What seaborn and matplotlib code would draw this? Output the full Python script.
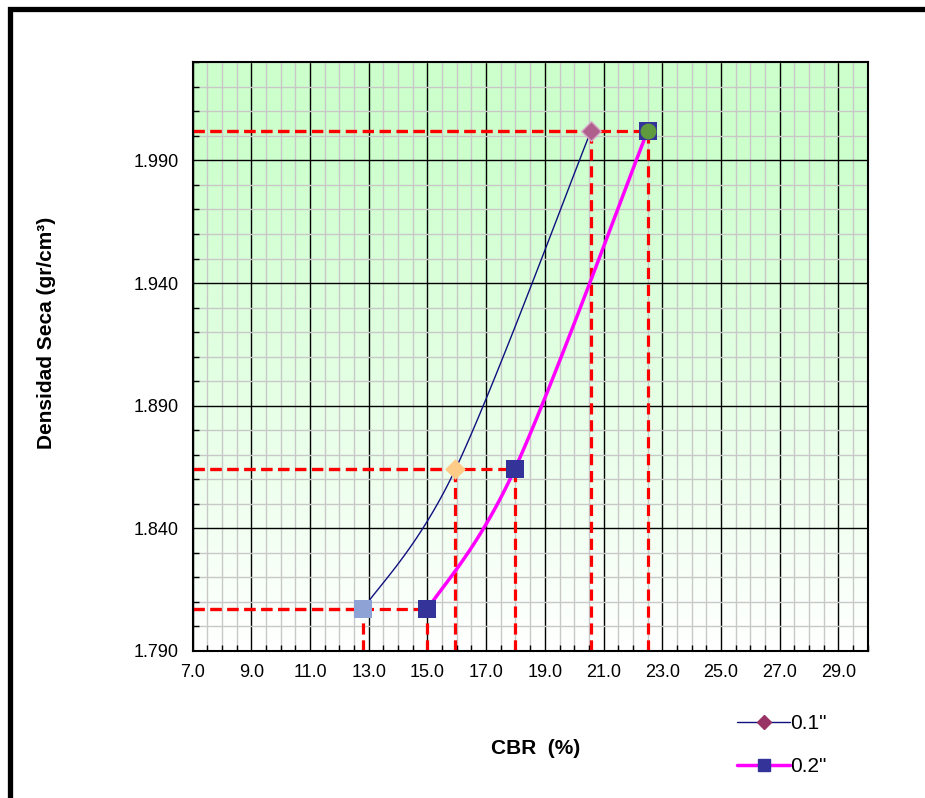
import numpy as np
import pandas as pd
import matplotlib
matplotlib.use("Agg")
import matplotlib.pyplot as plt
import seaborn as sns
from matplotlib.lines import Line2D
from matplotlib.patches import Rectangle
from matplotlib.ticker import MultipleLocator, FixedLocator

# ---- data ----
dens = [1.807, 1.864, 2.002]
cbr_01 = [12.8, 15.95, 20.57]
cbr_02 = [15.0, 17.97, 22.5]
series_names = ['0.1"', '0.2"']
x_ticks = [7.0, 9.0, 11.0, 13.0, 15.0, 17.0, 19.0, 21.0, 23.0, 25.0, 27.0, 29.0]
y_ticks = [1.790, 1.840, 1.890, 1.940, 1.990]

sns.set_theme(style="white")
plt.rcParams['font.family'] = ['Liberation Sans', 'DejaVu Sans']
plt.rcParams['text.color'] = 'black'

fig = plt.figure(figsize=(9.25, 7.98), dpi=100)
ax = fig.add_axes([0.2083, 0.1843, 0.7297, 0.7376])
XMIN, XMAX, YMIN, YMAX = 7.0, 30.0, 1.790, 2.030
ax.set_xlim(XMIN, XMAX)
ax.set_ylim(YMIN, YMAX)

# gradient background
grad = np.linspace(0, 1, 256).reshape(-1, 1)
top = np.array([0.80, 1.0, 0.80])
bot = np.array([1.0, 1.0, 1.0])
frac = np.clip(grad * 1.15, 0, 1)
img = bot + (top - bot) * frac
img = img.reshape(256, 1, 3)
ax.imshow(img, extent=(XMIN, XMAX, YMIN, YMAX), origin='lower', aspect='auto', zorder=0)

# grid
ax.xaxis.set_major_locator(FixedLocator(x_ticks))
ax.xaxis.set_minor_locator(MultipleLocator(0.5))
ax.yaxis.set_major_locator(FixedLocator(y_ticks))
ax.yaxis.set_minor_locator(MultipleLocator(0.01))
ax.grid(which='minor', color='#c8c8c8', lw=1.0, zorder=1)
ax.grid(which='major', color='#000000', lw=1.0, zorder=1.5)
ax.set_axisbelow(True)
ax.set_xticklabels([f"{v:.1f}" for v in x_ticks], fontsize=13, color='black')
ax.set_yticklabels([f"{v:.3f}" for v in y_ticks], fontsize=13, color='black')
ax.tick_params(axis='x', which='major', direction='inout', length=7, width=1.2, color='black', pad=6)
ax.tick_params(axis='x', which='minor', direction='in', length=4, width=1.0, color='black', bottom=True)
ax.tick_params(axis='y', which='major', direction='out', length=6, width=1.2, color='black', pad=4)
ax.tick_params(axis='y', which='minor', direction='in', length=4, width=1.0, color='black', left=True)
for s in ax.spines.values():
    s.set_color('black')
    s.set_linewidth(1.5)
    s.set_zorder(5)


def excel_smooth(xs, ys, n=60):
    pts = np.column_stack([xs, ys]).astype(float)
    out = []
    m = len(pts)
    for i in range(m - 1):
        p0 = pts[i - 1] if i > 0 else pts[i]
        p1 = pts[i]
        p2 = pts[i + 1]
        p3 = pts[i + 2] if i + 2 < m else pts[i + 1]
        c1 = p1 + (p2 - p0) / 6.0
        c2 = p2 - (p3 - p1) / 6.0
        t = np.linspace(0, 1, n)[:, None]
        seg = ((1 - t) ** 3) * p1 + 3 * ((1 - t) ** 2) * t * c1 + 3 * (1 - t) * t ** 2 * c2 + t ** 3 * p2
        out.append(seg if i == 0 else seg[1:])
    return np.vstack(out)

# red dashed guide lines
for xs in (cbr_01, cbr_02):
    for xv, yv in zip(xs, dens):
        ax.plot([XMIN, xv], [yv, yv], color='#ff0000', lw=2.3, ls=(0, (3.5, 1.8)), zorder=3)
        ax.plot([xv, xv], [YMIN, yv], color='#ff0000', lw=2.3, ls=(0, (3.5, 1.8)), zorder=3)

# smoothed curves
c1 = excel_smooth(cbr_01, dens)
c2 = excel_smooth(cbr_02, dens)
sns.lineplot(x=c1[:, 0], y=c1[:, 1], sort=False, color='#10107f', lw=1.0, ax=ax, zorder=4)
sns.lineplot(x=c2[:, 0], y=c2[:, 1], sort=False, color='#ff00ff', lw=2.5, ax=ax, zorder=4)

# markers (individual point formats)
ax.scatter([cbr_01[0]], [dens[0]], marker='s', s=150, color='#8ea2d6', zorder=6, linewidths=0)
ax.scatter([cbr_01[1]], [dens[1]], marker='D', s=110, color='#ffcc88', zorder=6, linewidths=0)
ax.scatter([cbr_01[2]], [dens[2]], marker='D', s=100, color='#b0608c', edgecolor='#d8a8c8', linewidths=1, zorder=6)
ax.scatter(cbr_02, dens, marker='s', s=150, color='#333399', zorder=6, linewidths=0)
ax.scatter([cbr_02[2]], [dens[2]], marker='o', s=130, color='#5f9a3e', zorder=7, linewidths=0)

ax.set_xlabel('')
ax.set_ylabel('')
fig.text(0.579, 0.0625, 'CBR  (%)', fontsize=15, fontweight='bold', ha='center', va='center', color='black')
fig.text(0.050, 0.583, 'Densidad Seca (gr/cm³)', fontsize=15, fontweight='bold',
         rotation=90, ha='center', va='center', color='black')

handles = [
    Line2D([], [], color='#10107f', lw=1.0, marker='D', markersize=7, markerfacecolor='#993366', markeredgecolor='#993366'),
    Line2D([], [], color='#ff00ff', lw=2.5, marker='s', markersize=9, markerfacecolor='#333399', markeredgecolor='#333399'),
]
leg = fig.legend(handles, series_names, loc='center left', bbox_to_anchor=(0.777, 0.066), frameon=False,
                 fontsize=15, handlelength=2.5, handletextpad=0.05, labelspacing=1.15, labelcolor='black')

fig.add_artist(Rectangle((0.0106, -0.05), 1.1, 0.9885 + 0.05, transform=fig.transFigure,
                         fill=False, edgecolor='black', lw=3.8, zorder=10))

fig.savefig('out.png', dpi=100)
